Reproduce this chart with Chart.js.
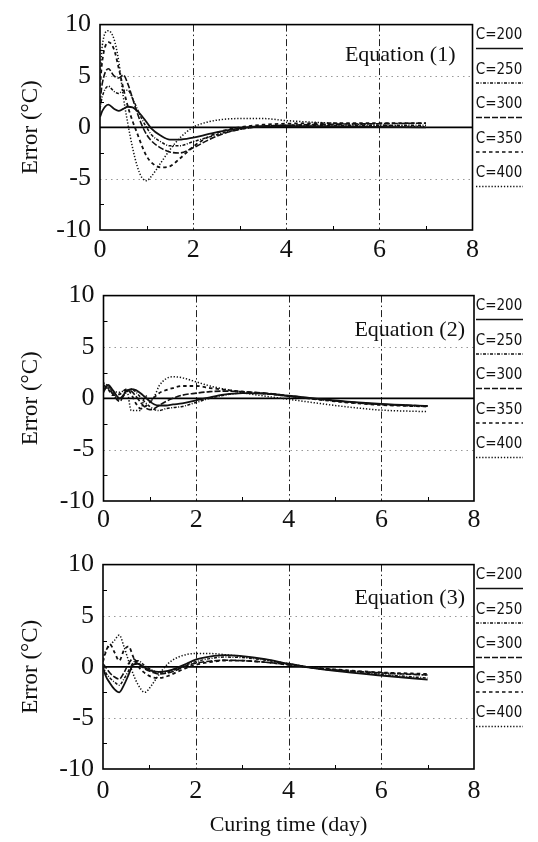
<!DOCTYPE html>
<html>
<head>
<meta charset="utf-8">
<script src="https://cdn.jsdelivr.net/npm/chart.js@4.4.1/dist/chart.umd.min.js"></script>
<style>
  body { margin: 0; background: #fff; }
  #wrap { position: relative; width: 538px; height: 842px; }
  canvas { position: absolute; left: 0; }
</style>
</head>
<body>
<div id="wrap">
  <canvas id="eq1" width="538" height="262" style="top:0px"></canvas>
  <canvas id="eq2" width="538" height="262" style="top:271px"></canvas>
  <canvas id="eq3" width="538" height="302" style="top:540px"></canvas>
</div>
<script>
// cement contents (legend) and axis ticks
const cementLabels = ["C=200", "C=250", "C=300", "C=350", "C=400"];
const xTicks = [0, 2, 4, 6, 8];
const yTicks = [-10, -5, 0, 5, 10];

// Equation (1)
const time1 = [0, 0.05, 0.18, 0.3, 0.4, 0.5, 0.6, 0.7, 0.8, 0.9, 1.0, 1.1, 1.3, 1.5, 1.7, 2.0, 2.3, 2.6, 3.0, 3.5, 4.0, 5.0, 6.0, 7.0];
const eq1C200 = [1.0, 1.6, 2.2, 1.8, 1.6, 1.8, 2.0, 1.95, 1.6, 1.1, 0.5, -0.1, -0.8, -1.2, -1.2, -1.0, -0.7, -0.4, -0.1, 0.1, 0.1, 0.1, 0.05, 0.0];
const eq1C250 = [1.8, 3.0, 4.0, 3.5, 3.3, 3.6, 3.6, 2.8, 1.8, 0.8, 0.0, -0.7, -1.4, -1.8, -1.8, -1.4, -1.0, -0.6, -0.2, 0.1, 0.2, 0.2, 0.2, 0.2];
const eq1C300 = [2.5, 4.3, 5.7, 5.0, 4.8, 5.1, 4.2, 2.8, 1.4, 0.2, -0.7, -1.3, -2.0, -2.4, -2.5, -2.0, -1.3, -0.7, -0.2, 0.1, 0.2, 0.3, 0.35, 0.4];
const eq1C350 = [4.0, 6.5, 8.3, 7.6, 5.8, 3.8, 2.0, 0.6, -0.6, -1.8, -2.8, -3.4, -3.9, -3.8, -3.1, -1.9, -1.0, -0.4, 0.0, 0.25, 0.35, 0.4, 0.4, 0.4];
const eq1C400 = [5.0, 8.0, 9.4, 8.6, 6.5, 3.0, 0.3, -2.0, -3.8, -4.9, -5.2, -4.8, -3.5, -2.2, -1.1, 0.0, 0.5, 0.75, 0.85, 0.85, 0.65, 0.4, 0.2, 0.05];

// Equation (2)
const time2 = [0, 0.1, 0.2, 0.35, 0.5, 0.6, 0.7, 0.8, 0.9, 1.0, 1.1, 1.2, 1.35, 1.5, 1.7, 2.0, 2.3, 2.6, 3.0, 3.5, 4.0, 4.5, 5.0, 5.5, 6.0, 7.0];
const eq2C200 = [0.6, 1.3, 0.8, 0.0, 0.7, 0.9, 0.8, 0.5, 0.1, -0.3, -0.6, -0.7, -0.7, -0.6, -0.5, -0.2, 0.1, 0.35, 0.5, 0.45, 0.25, 0.0, -0.2, -0.4, -0.55, -0.75];
const eq2C250 = [0.8, 1.2, 0.6, -0.1, 0.6, 0.9, 0.6, 0.1, -0.4, -0.8, -1.1, -1.2, -1.0, -0.9, -0.8, -0.4, 0.0, 0.3, 0.5, 0.45, 0.2, -0.05, -0.25, -0.45, -0.6, -0.8];
const eq2C300 = [1.0, 1.0, 0.4, -0.3, 0.8, 0.7, 0.2, -0.4, -0.9, -1.1, -1.0, -0.7, -0.3, 0.0, 0.3, 0.5, 0.65, 0.7, 0.65, 0.5, 0.25, 0.0, -0.25, -0.45, -0.6, -0.75];
const eq2C350 = [1.3, 0.9, 0.3, 0.4, 0.9, 0.4, -0.5, -1.0, -0.8, -0.4, 0.1, 0.5, 0.8, 1.0, 1.2, 1.2, 1.0, 0.85, 0.65, 0.45, 0.2, -0.05, -0.3, -0.5, -0.65, -0.8];
const eq2C400 = [1.5, 1.2, 0.7, 0.6, 0.8, -1.2, -1.2, -1.2, 0.3, -0.3, 0.2, 1.2, 1.9, 2.1, 2.0, 1.6, 1.2, 0.9, 0.55, 0.2, -0.1, -0.4, -0.7, -0.95, -1.15, -1.3];

// Equation (3)
const time3 = [0, 0.05, 0.15, 0.25, 0.35, 0.45, 0.55, 0.65, 0.75, 0.9, 1.05, 1.2, 1.4, 1.6, 1.8, 2.0, 2.3, 2.6, 3.0, 3.5, 4.0, 4.5, 5.0, 6.0, 7.0];
const eq3C200 = [0.0, -0.8, -1.6, -2.2, -2.5, -1.8, -0.8, 0.2, 0.3, -0.1, -0.4, -0.5, -0.4, -0.1, 0.3, 0.7, 1.0, 1.15, 1.05, 0.75, 0.3, -0.1, -0.4, -0.85, -1.25];
const eq3C250 = [0.1, -0.5, -1.1, -1.5, -1.8, -1.2, -0.4, 0.4, 0.6, 0.1, -0.3, -0.6, -0.5, -0.2, 0.2, 0.5, 0.8, 0.95, 0.9, 0.65, 0.25, -0.1, -0.35, -0.75, -1.1];
const eq3C300 = [0.3, 0.0, -0.6, -1.0, -1.2, -0.6, 0.3, 0.8, 0.4, -0.2, -0.5, -0.7, -0.6, -0.3, 0.1, 0.35, 0.55, 0.65, 0.6, 0.45, 0.2, -0.1, -0.3, -0.6, -0.8];
const eq3C350 = [0.5, 1.3, 2.2, 1.4, 0.6, 1.6, 2.0, 1.0, 0.1, -0.6, -1.0, -1.1, -0.9, -0.5, -0.1, 0.2, 0.45, 0.6, 0.6, 0.45, 0.2, -0.05, -0.25, -0.55, -0.7];
const eq3C400 = [0.8, 1.5, 2.1, 2.6, 3.1, 2.0, 0.6, -0.7, -1.7, -2.5, -1.8, -0.8, 0.3, 0.9, 1.2, 1.3, 1.3, 1.2, 1.0, 0.7, 0.3, -0.05, -0.3, -0.6, -0.8];

const serif = "'Liberation Serif', 'Times New Roman', serif";
const lineDashes = [[], [3, 1.5, 1, 1.5], [6, 2], [3.5, 3], [1.3, 1.8]];
const lineWidths = [1.8, 1.5, 1.6, 1.8, 1.5];

function strokeLine(ctx, x1, y1, x2, y2) {
  ctx.beginPath();
  ctx.moveTo(x1, y1);
  ctx.lineTo(x2, y2);
  ctx.stroke();
}

// frame, grid lines, minor ticks, legend and the equation label
const panelDecor = {
  id: "panelDecor",
  beforeDatasetsDraw(chart, args, opts) {
    const { ctx, chartArea: a, scales: { x, y } } = chart;
    ctx.save();
    ctx.lineWidth = 1;

    ctx.strokeStyle = "#999";
    ctx.setLineDash([1.5, 4]);
    yTicks.filter(v => Math.abs(v) === 5).forEach(v => {
      const py = Math.round(y.getPixelForValue(v)) + 0.5;
      strokeLine(ctx, a.left, py, a.right, py);
    });

    ctx.strokeStyle = "#222";
    ctx.setLineDash([7, 3, 1.5, 3]);
    xTicks.slice(1, -1).forEach(v => {
      const px = Math.round(x.getPixelForValue(v)) + 0.5;
      strokeLine(ctx, px, a.top, px, a.bottom);
    });

    ctx.setLineDash([]);
    ctx.strokeStyle = "#000";
    for (let v = 1; v < 8; v += 2) {
      const px = Math.round(x.getPixelForValue(v)) + 0.5;
      strokeLine(ctx, px, a.bottom, px, a.bottom - 4);
    }
    [-7.5, -2.5, 2.5, 7.5].forEach(v => {
      const py = Math.round(y.getPixelForValue(v)) + 0.5;
      strokeLine(ctx, a.left, py, a.left + 4, py);
    });

    ctx.lineWidth = 1.7;
    const zero = y.getPixelForValue(0);
    strokeLine(ctx, a.left, zero, a.right, zero);

    ctx.lineWidth = 1.6;
    ctx.strokeRect(a.left, a.top, a.right - a.left, a.bottom - a.top);
    ctx.restore();
  },
  afterDraw(chart, args, opts) {
    const { ctx, chartArea: a } = chart;
    ctx.save();
    ctx.fillStyle = "#111";
    ctx.font = "22px " + serif;
    ctx.textAlign = "right";
    ctx.textBaseline = "middle";
    ctx.fillText(opts.label, a.right - opts.labelInset, a.top + opts.labelDrop);

    ctx.font = "15px 'DejaVu Sans Condensed', 'Liberation Sans', sans-serif";
    ctx.textAlign = "center";
    chart.data.datasets.forEach((ds, i) => {
      const ty = a.top + 11 + i * 34.5;
      ctx.fillText(ds.label, 499, ty);
      ctx.strokeStyle = "#111";
      ctx.lineWidth = 1.5;
      ctx.setLineDash(ds.borderDash);
      strokeLine(ctx, 476, ty + 13, 523, ty + 13);
    });
    ctx.restore();
  }
};

function makePanel(id, label, time, series, cfg) {
  const datasets = series.map((vals, i) => ({
    label: cementLabels[i],
    data: time.map((t, j) => ({ x: t, y: vals[j] })),
    borderColor: "#111",
    borderWidth: lineWidths[i],
    borderDash: lineDashes[i],
    pointRadius: 0,
    fill: false,
    cubicInterpolationMode: "monotone"
  }));

  return new Chart(document.getElementById(id), {
    type: "line",
    data: { datasets },
    options: {
      responsive: false,
      animation: false,
      devicePixelRatio: 1,
      layout: { padding: { top: 15, right: 538 - cfg.right, left: 0, bottom: 0 } },
      plugins: {
        legend: { display: false },
        tooltip: { enabled: false },
        panelDecor: { label, labelInset: cfg.labelInset, labelDrop: cfg.labelDrop }
      },
      scales: {
        x: {
          type: "linear",
          min: 0,
          max: 8,
          afterBuildTicks: s => { s.ticks = xTicks.map(v => ({ value: v })); },
          afterFit: s => { s.height = cfg.xHeight; },
          ticks: { font: { family: serif, size: 26 }, color: "#111", padding: cfg.xPad, maxRotation: 0 },
          grid: { display: false, drawTicks: false },
          border: { display: false },
          title: {
            display: cfg.xTitle,
            text: "Curing time (day)",
            font: { family: serif, size: 22 },
            color: "#111",
            padding: { top: 0, bottom: 4 }
          }
        },
        y: {
          min: -10,
          max: 10,
          afterBuildTicks: s => { s.ticks = yTicks.map(v => ({ value: v })); },
          afterFit: s => { s.width = cfg.left; },
          ticks: { font: { family: serif, size: 26 }, color: "#111", padding: 9 },
          grid: { display: false, drawTicks: false },
          border: { display: false },
          title: {
            display: true,
            text: "Error (°C)",
            font: { family: serif, size: 23 },
            color: "#111",
            padding: { top: 17, bottom: 0 }
          }
        }
      }
    },
    plugins: [panelDecor]
  });
}

makePanel("eq1", "Equation (1)", time1, [eq1C200, eq1C250, eq1C300, eq1C350, eq1C400],
  { left: 100, right: 472.5, xHeight: 32, xPad: 5, xTitle: false, labelInset: 17, labelDrop: 31 });
makePanel("eq2", "Equation (2)", time2, [eq2C200, eq2C250, eq2C300, eq2C350, eq2C400],
  { left: 103.5, right: 474, xHeight: 32, xPad: 4, xTitle: false, labelInset: 9, labelDrop: 35 });
makePanel("eq3", "Equation (3)", time3, [eq3C200, eq3C250, eq3C300, eq3C350, eq3C400],
  { left: 103, right: 474, xHeight: 73, xPad: 7, xTitle: true, labelInset: 9, labelDrop: 34 });
</script>
</body>
</html>
